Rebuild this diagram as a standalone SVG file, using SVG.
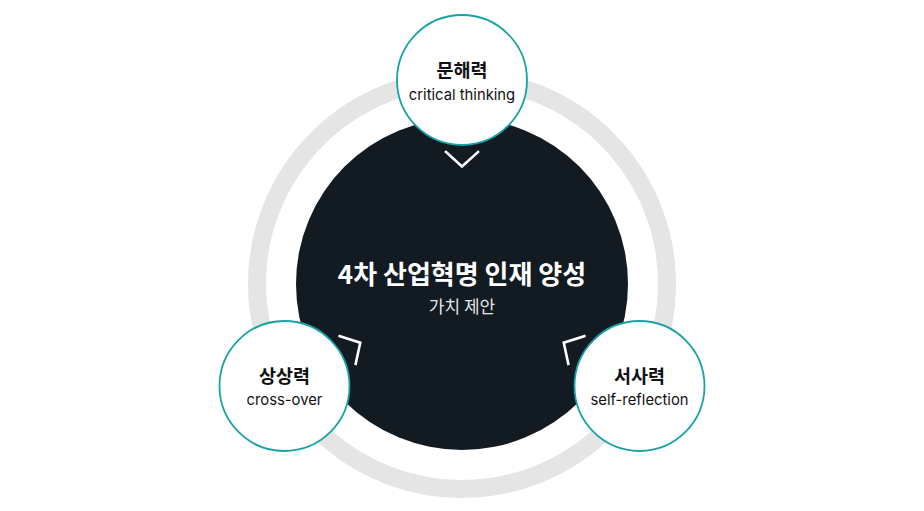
<svg xmlns="http://www.w3.org/2000/svg" width="924" height="511" viewBox="0 0 924 511">
  <style>
    .ring { fill: none; stroke: #e5e5e5; stroke-width: 18; }
    .core { fill: #121a22; }
    .node { fill: #ffffff; stroke: #17a3a6; stroke-width: 1.8; }
    .chev { fill: none; stroke: #ffffff; stroke-width: 2.6; stroke-linecap: square; stroke-linejoin: miter; }
    .ko { font-family: "Noto Sans CJK KR", "Noto Sans", sans-serif; font-weight: 700; font-size: 18.5px; fill: #111111; text-anchor: middle; }
    .en { font-family: "Inter", "Noto Sans", sans-serif; font-weight: 400; font-size: 14.8px; fill: #111111; text-anchor: middle; }
    .title { font-family: "Noto Sans CJK KR", sans-serif; font-weight: 700; font-size: 26px; fill: #ffffff; text-anchor: middle; }
    .sub { font-family: "Noto Sans CJK KR", sans-serif; font-weight: 400; font-size: 17px; fill: #e6e6e6; text-anchor: middle; }
  </style>
  <rect width="924" height="511" fill="#ffffff"/>
  <g id="ring">
    <circle class="ring" cx="462" cy="284" r="205"/>
  </g>
  <g id="center">
    <circle class="core" cx="462" cy="284" r="166"/>
    <text class="title" x="462" y="284">4차 산업혁명 인재 양성</text>
    <text class="sub" x="462" y="313">가치 제안</text>
  </g>
  <g id="connectors">
    <polyline class="chev" points="446,152 462,166.5 478,152"/>
    <polyline class="chev" points="446,152 462,166.5 478,152" transform="rotate(120 462 284)"/>
    <polyline class="chev" points="446,152 462,166.5 478,152" transform="rotate(-120 462 284)"/>
  </g>
  <g id="node-top">
    <circle class="node" cx="462" cy="80" r="65"/>
    <text class="ko" x="462" y="77">문해력</text>
    <text class="en" x="462" y="100">critical thinking</text>
  </g>
  <g id="node-left">
    <circle class="node" cx="284.5" cy="386" r="65"/>
    <text class="ko" x="284.5" y="383">상상력</text>
    <text class="en" x="284.5" y="405">cross-over</text>
  </g>
  <g id="node-right">
    <circle class="node" cx="639.5" cy="386" r="65"/>
    <text class="ko" x="639.5" y="383">서사력</text>
    <text class="en" x="639.5" y="405">self-reflection</text>
  </g>
</svg>
